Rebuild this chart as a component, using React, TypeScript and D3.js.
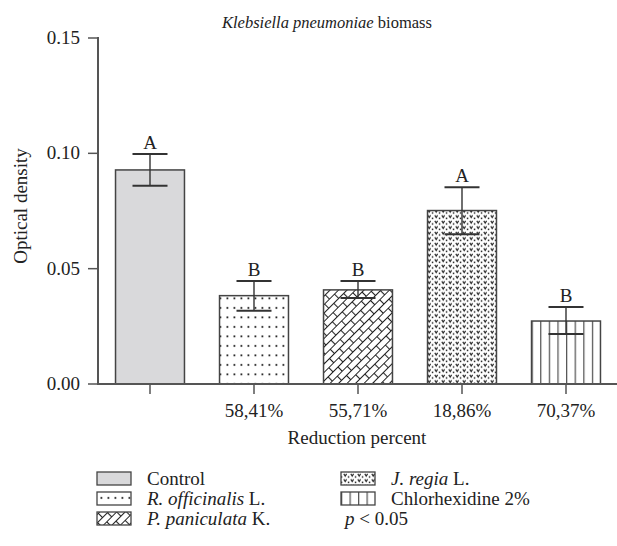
import * as d3 from 'd3'

// values
const groups = ['Control', 'R. officinalis L.', 'P. paniculata K.', 'J. regia L.', 'Chlorhexidine 2%']
const means = [0.0928, 0.0383, 0.0408, 0.0752, 0.0273]
const errHigh = [0.0997, 0.0447, 0.0447, 0.0853, 0.0334]
const errLow = [0.086, 0.0318, 0.0373, 0.0649, 0.0217]
const letters = ['A', 'B', 'B', 'A', 'B']
const reduction = ['', '58,41%', '55,71%', '18,86%', '70,37%']
const yTicks = [0, 0.05, 0.1, 0.15]
const fills = ['url(#gray)', 'url(#dots)', 'url(#bricks)', 'url(#vees)', 'url(#vlines)']

const W = 617
const H = 546
const FONT = "'Liberation Serif', 'DejaVu Serif', serif"
const FS = 19
const INK = '#333'

export default function App() {
  const x = d3.scaleBand<string>().domain(groups).range([98, 618]).paddingInner(0.337).paddingOuter(0.1685)
  const y = d3.scaleLinear().domain([0, 0.15]).range([384, 38])
  const bw = x.bandwidth()
  const capW = 35
  const lastX = x(groups[4])!

  const legendRows = [
    { g: 0, col: 0, row: 0 },
    { g: 1, col: 0, row: 1 },
    { g: 2, col: 0, row: 2 },
    { g: 3, col: 1, row: 0 },
    { g: 4, col: 1, row: 1 },
  ]
  const legX = [97, 341]
  const legY = [472, 492, 512]

  return (
    <svg width={W} height={H} style={{ position: 'absolute', left: 0, top: 0, background: '#fff', fontFamily: FONT }}>
      <defs>
        <pattern id="gray" patternUnits="userSpaceOnUse" width={4} height={4}>
          <rect width={4} height={4} fill="#d9d9db" />
        </pattern>
        <pattern id="dots" patternUnits="userSpaceOnUse" width={7} height={9.5}>
          <rect width={7} height={9.5} fill="#fff" />
          <rect x={2.5} y={3} width={1.8} height={1.8} fill="#222" />
        </pattern>
        <pattern id="bricks" patternUnits="userSpaceOnUse" width={14} height={12} patternTransform="rotate(-45)">
          <rect width={14} height={12} fill="#fff" />
          <path d="M0,0.5H14M0,6.5H14M0.5,0.5V6.5M7.5,6.5V12" stroke="#222" strokeWidth={1.1} fill="none" />
        </pattern>
        <pattern id="vees" patternUnits="userSpaceOnUse" width={7} height={5.5}>
          <rect width={7} height={5.5} fill="#fff" />
          <path d="M0.8,0.8L2.2,3L3.6,0.8" stroke="#222" strokeWidth={1.2} fill="none" />
          <rect x={4.8} y={3.2} width={1.5} height={1.5} fill="#222" />
        </pattern>
        <pattern id="vlines" patternUnits="userSpaceOnUse" x={lastX} width={bw / 8} height={10}>
          <rect width={bw / 8} height={10} fill="#fff" />
          <line x1={0.6} x2={0.6} y1={0} y2={10} stroke="#555" strokeWidth={1.3} />
        </pattern>
        <pattern id="vlinesLeg" patternUnits="userSpaceOnUse" x={legX[1]} width={34 / 4} height={10}>
          <rect width={34 / 4} height={10} fill="#fff" />
          <line x1={0.6} x2={0.6} y1={0} y2={10} stroke="#555" strokeWidth={1.3} />
        </pattern>
      </defs>

      {/* title */}
      <text x={222} y={28} fontSize={16.5} fill="#222">
        <tspan fontStyle="italic">Klebsiella pneumoniae</tspan> biomass
      </text>

      {/* bars */}
      {groups.map((g, i) => (
        <rect key={g} x={x(g)} y={y(means[i])} width={bw} height={y(0) - y(means[i])}
          fill={fills[i]} stroke="#444" strokeWidth={1.5} />
      ))}

      {/* error bars and letters */}
      {groups.map((g, i) => {
        const cx = x(g)! + bw / 2
        return (
          <g key={g} stroke={INK} fill="none">
            <line x1={cx} x2={cx} y1={y(errLow[i])} y2={y(errHigh[i])} strokeWidth={1.4} />
            <line x1={cx - capW / 2} x2={cx + capW / 2} y1={y(errHigh[i])} y2={y(errHigh[i])} strokeWidth={2} />
            <line x1={cx - capW / 2} x2={cx + capW / 2} y1={y(errLow[i])} y2={y(errLow[i])} strokeWidth={2} />
            <text x={cx} y={y(errHigh[i]) - 5} textAnchor="middle" fontSize={FS} fill="#222" stroke="none">{letters[i]}</text>
          </g>
        )
      })}

      {/* y axis */}
      <line x1={98} x2={98} y1={y(0.15) - 1} y2={y(0) + 1} stroke="#555" strokeWidth={2} />
      {yTicks.map((t) => (
        <g key={t}>
          <line x1={88} x2={98} y1={y(t)} y2={y(t)} stroke="#555" strokeWidth={1.5} />
          <text x={80} y={y(t) + 6} textAnchor="end" fontSize={FS} fill="#222">{d3.format('.2f')(t)}</text>
        </g>
      ))}
      <text transform={`translate(27,${(y(0) + y(0.15)) / 2 - 5}) rotate(-90)`} textAnchor="middle" fontSize={FS} fill="#222">
        Optical density
      </text>

      {/* x axis */}
      <line x1={97} x2={W} y1={y(0)} y2={y(0)} stroke="#555" strokeWidth={2} />
      {groups.map((g, i) => {
        const cx = x(g)! + bw / 2
        return (
          <g key={g}>
            <line x1={cx} x2={cx} y1={y(0)} y2={y(0) + 10} stroke="#555" strokeWidth={1.5} />
            <text x={cx} y={417} textAnchor="middle" fontSize={FS} fill="#222">{reduction[i]}</text>
          </g>
        )
      })}
      <text x={357} y={444} textAnchor="middle" fontSize={FS} fill="#222">Reduction percent</text>

      {/* legend */}
      {legendRows.map(({ g, col, row }) => {
        const name = groups[g]
        const fill = g === 4 ? 'url(#vlinesLeg)' : fills[g]
        const sp = name.indexOf(' ', 3)
        const italic = g >= 1 && g <= 3
        return (
          <g key={name}>
            <rect x={legX[col]} y={legY[row]} width={34} height={13} fill={fill} stroke="#444" strokeWidth={1.3} />
            <text x={legX[col] + 50} y={legY[row] + 13} fontSize={FS} fill="#222">
              {italic ? (
                <>
                  <tspan fontStyle="italic">{name.slice(0, sp)}</tspan>
                  {name.slice(sp)}
                </>
              ) : name}
            </text>
          </g>
        )
      })}
      <text x={legX[1] + 4} y={legY[2] + 13} fontSize={FS} fill="#222">
        <tspan fontStyle="italic">p</tspan> &lt; 0.05
      </text>
    </svg>
  )
}
